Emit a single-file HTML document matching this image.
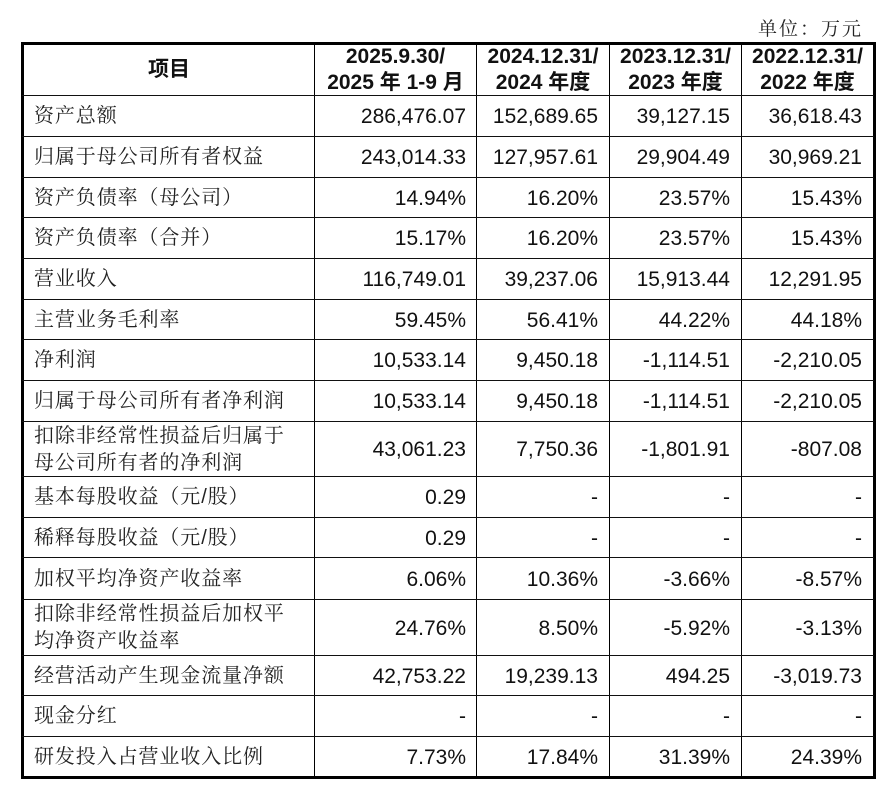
<!DOCTYPE html>
<html><head><meta charset="utf-8"><style>
body{margin:0;width:896px;height:790px;background:#fff;position:relative;overflow:hidden;font-family:"Liberation Sans","Noto Sans CJK SC",sans-serif;color:#111}
.unit{position:absolute;right:33px;top:14px;font-size:19px;letter-spacing:2px;font-family:"Liberation Sans","Noto Serif CJK SC",serif;color:#222}
.box{position:absolute;left:21px;top:42px;width:849px;height:731px;border:3px solid #000}
.v{position:absolute;top:42px;height:737px;width:1px;background:#000}
.h{position:absolute;left:22px;width:852px;height:1px;background:#111}
.c{position:absolute;display:flex;align-items:center;font-size:21px;line-height:27px}
.l{left:34px;width:280px;font-size:20px;font-family:"Liberation Sans","Noto Serif CJK SC",serif;letter-spacing:0.9px;color:#222}
.n{justify-content:flex-end}
.hd{justify-content:center;text-align:center;font-weight:bold;line-height:26px}
</style></head><body>
<div class="unit">单位：万元</div>
<div class="box"></div>
<div class="v" style="left:314px"></div>
<div class="v" style="left:476px"></div>
<div class="v" style="left:609px"></div>
<div class="v" style="left:741px"></div>
<div class="h" style="top:95px"></div><div class="h" style="top:136px"></div><div class="h" style="top:177px"></div><div class="h" style="top:217px"></div><div class="h" style="top:258px"></div><div class="h" style="top:299px"></div><div class="h" style="top:339px"></div><div class="h" style="top:380px"></div><div class="h" style="top:421px"></div><div class="h" style="top:476px"></div><div class="h" style="top:517px"></div><div class="h" style="top:557px"></div><div class="h" style="top:599px"></div><div class="h" style="top:655px"></div><div class="h" style="top:695px"></div><div class="h" style="top:736px"></div>

<div class="c hd" style="left:24px;width:290px;top:44px;height:51px">项目</div>
<div class="c hd" style="left:315px;width:161px;top:44px;height:51px">2025.9.30/<br>2025 年 1-9 月</div>
<div class="c hd" style="left:477px;width:132px;top:44px;height:51px">2024.12.31/<br>2024 年度</div>
<div class="c hd" style="left:610px;width:131px;top:44px;height:51px">2023.12.31/<br>2023 年度</div>
<div class="c hd" style="left:742px;width:131px;top:44px;height:51px">2022.12.31/<br>2022 年度</div>

<div id="rows"></div>
<script>
var rows=[
[95,136,"资产总额","286,476.07","152,689.65","39,127.15","36,618.43"],
[136,177,"归属于母公司所有者权益","243,014.33","127,957.61","29,904.49","30,969.21"],
[177,217,"资产负债率（母公司）","14.94%","16.20%","23.57%","15.43%"],
[217,258,"资产负债率（合并）","15.17%","16.20%","23.57%","15.43%"],
[258,299,"营业收入","116,749.01","39,237.06","15,913.44","12,291.95"],
[299,339,"主营业务毛利率","59.45%","56.41%","44.22%","44.18%"],
[339,380,"净利润","10,533.14","9,450.18","-1,114.51","-2,210.05"],
[380,421,"归属于母公司所有者净利润","10,533.14","9,450.18","-1,114.51","-2,210.05"],
[421,476,"扣除非经常性损益后归属于<br>母公司所有者的净利润","43,061.23","7,750.36","-1,801.91","-807.08"],
[476,517,"基本每股收益（元/股）","0.29","-","-","-"],
[517,557,"稀释每股收益（元/股）","0.29","-","-","-"],
[557,599,"加权平均净资产收益率","6.06%","10.36%","-3.66%","-8.57%"],
[599,655,"扣除非经常性损益后加权平<br>均净资产收益率","24.76%","8.50%","-5.92%","-3.13%"],
[655,695,"经营活动产生现金流量净额","42,753.22","19,239.13","494.25","-3,019.73"],
[695,736,"现金分红","-","-","-","-"],
[736,777,"研发投入占营业收入比例","7.73%","17.84%","31.39%","24.39%"]];
var rights=[[315,466],[477,598],[610,730],[742,862]];
var h="";
rows.forEach(function(r){
 var t=r[0]+1,ht=r[1]-r[0];
 h+='<div class="c l" style="top:'+t+'px;height:'+ht+'px">'+r[2]+'</div>';
 for(var i=0;i<4;i++){h+='<div class="c n" style="left:'+rights[i][0]+'px;width:'+(rights[i][1]-rights[i][0])+'px;top:'+t+'px;height:'+ht+'px">'+r[3+i]+'</div>';}
});
document.getElementById('rows').innerHTML=h;
</script>
</body></html>
